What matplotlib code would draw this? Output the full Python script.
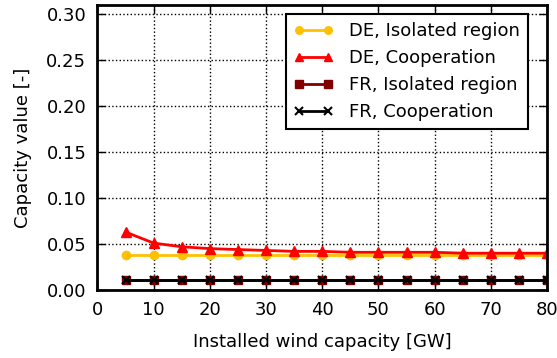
import matplotlib.pyplot as plt
import numpy as np

wind = [5, 10, 15, 20, 25, 30, 35, 40, 45, 50, 55, 60, 65, 70, 75, 80]
de_iso = [0.038] * 16
de_coop = [0.063, 0.051, 0.047, 0.045, 0.044, 0.043, 0.042, 0.042,
           0.041, 0.041, 0.041, 0.041, 0.040, 0.040, 0.040, 0.040]
fr_iso = [0.011] * 16
fr_coop = [0.011] * 16

fig, ax = plt.subplots(figsize=(5.57, 3.58), dpi=100)

ax.plot(wind, de_iso, color='#FFC000', marker='o', ms=6, mec='#FFC000', lw=2, label="DE, Isolated region")
ax.plot(wind, de_coop, color='red', marker='^', ms=7, mec='red', lw=2, label="DE, Cooperation")
ax.plot(wind, fr_iso, color='#800000', marker='s', ms=6, mec='#800000', lw=2, label="FR, Isolated region")
ax.plot(wind, fr_coop, color='black', marker='x', ms=6, mew=1.5, lw=2, label="FR, Cooperation")

ax.set_xlim(0, 80)
ax.set_ylim(0, 0.31)
ax.set_xticks(np.arange(0, 81, 10))
ax.set_yticks(np.arange(0, 0.301, 0.05))
ax.grid(True, color='black', linestyle=':', linewidth=1)
ax.tick_params(direction='in', top=True, right=True, length=6, width=1, labelsize=13, pad=8)
for s in ax.spines.values():
    s.set_linewidth(2)

ax.set_xlabel("Installed wind capacity [GW]", fontsize=13, labelpad=10)
ax.set_ylabel("Capacity value [-]", fontsize=13, labelpad=10)

leg = ax.legend(loc='upper right', bbox_to_anchor=(0.958, 0.969), borderaxespad=0,
                numpoints=2, fontsize=13, fancybox=False, framealpha=1,
                edgecolor='black', handlelength=2.2, markerscale=0.9,
                labelspacing=0.5, borderpad=0.45, handletextpad=0.85)
leg.get_frame().set_linewidth(1.5)

fig.subplots_adjust(left=0.175, right=0.982, top=0.986, bottom=0.19)
fig.savefig("out.png")
